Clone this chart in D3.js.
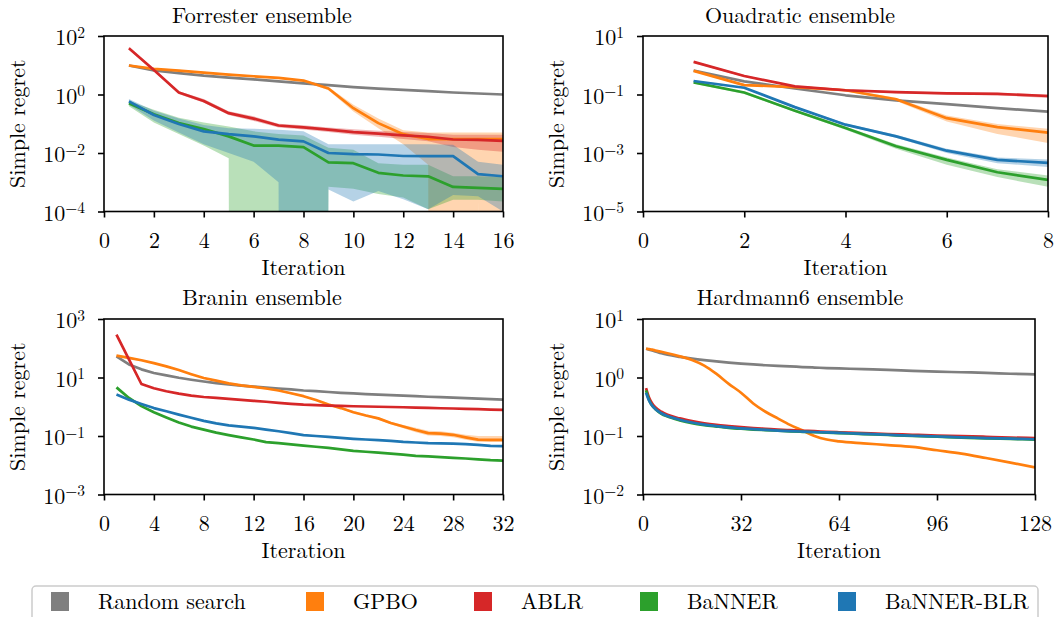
<!DOCTYPE html>
<html>
<head>
<meta charset="utf-8">
<script src="https://cdn.jsdelivr.net/npm/d3@7"></script>
<style>
  body { margin: 0; background: #fff; }
</style>
</head>
<body>
<svg id="chart" width="1055" height="617"></svg>
<script>
// ---- data ----
const methods = ["Random search", "GPBO", "ABLR", "BaNNER", "BaNNER-BLR"];

// Forrester ensemble
const forIter = [1, 2, 3, 4, 5, 6, 7, 8, 9, 10, 11, 12, 13, 14, 15, 16];
const forRandom = [9.8, 6.6, 5.4, 4.4, 3.8, 3.3, 2.8, 2.4, 2.1, 1.8, 1.6, 1.45, 1.3, 1.17, 1.08, 1.0];
const forGpbo   = [9.8, 7.5, 6.6, 5.6, 4.8, 4.2, 3.7, 3.0, 1.6, 0.34, 0.105, 0.044, 0.03, 0.03, 0.03, 0.03];
const forGpboLo = [9.2, 7.0, 6.2, 5.2, 4.5, 3.9, 3.5, 2.8, 1.4, 0.26, 0.07, 0.02, 0.004, 0, 2.5e-4, 0];
const forGpboHi = [10.5, 8.0, 7.0, 6.0, 5.1, 4.5, 3.9, 3.2, 1.8, 0.45, 0.15, 0.06, 0.05, 0.05, 0.05, 0.05];
const forAblr   = [38, 6.9, 1.17, 0.6, 0.23, 0.15, 0.087, 0.075, 0.063, 0.052, 0.046, 0.04, 0.036, 0.029, 0.028, 0.026];
const forAblrLo = [34, 6.3, 1.05, 0.52, 0.2, 0.125, 0.075, 0.063, 0.052, 0.042, 0.036, 0.03, 0.025, 0.016, 0.013, 0.011];
const forAblrHi = [42, 7.5, 1.3, 0.7, 0.27, 0.18, 0.1, 0.088, 0.075, 0.065, 0.058, 0.052, 0.048, 0.042, 0.042, 0.042];
const forBanner   = [0.5, 0.21, 0.105, 0.066, 0.037, 0.018, 0.018, 0.016, 0.0048, 0.0045, 0.0021, 0.0017, 0.0016, 6.9e-4, 6.4e-4, 5.9e-4];
const forBannerLo = [0.4, 0.11, 0.045, 0.018, 0.0066, 0, 0, 0, 7e-4, 6e-4, 4e-4, 3e-4, 1.2e-4, 2.5e-4, 2.5e-4, 2.2e-4];
const forBannerHi = [0.6, 0.3, 0.16, 0.11, 0.08, 0.055, 0.045, 0.04, 0.015, 0.013, 0.0045, 0.004, 0.004, 0.0016, 0.0016, 0.0015];
const forBlr   = [0.58, 0.2, 0.098, 0.055, 0.044, 0.037, 0.0285, 0.025, 0.01, 0.0092, 0.0089, 0.0079, 0.0078, 0.0078, 0.0019, 0.0016];
const forBlrLo = [0.45, 0.13, 0.05, 0.02, 0.01, 0.005, 0.001, 0, 5.6e-4, 2.2e-4, 5e-4, 2.6e-4, 1.2e-4, 3.7e-4, 3.3e-4, 1e-4];
const forBlrHi = [0.7, 0.28, 0.15, 0.09, 0.07, 0.068, 0.062, 0.055, 0.02, 0.02, 0.02, 0.02, 0.02, 0.019, 0.005, 0.004];

// Quadratic ensemble
const quadIter = [1, 2, 3, 4, 5, 6, 7, 8];
const quadRandom = [0.66, 0.28, 0.16, 0.094, 0.063, 0.047, 0.034, 0.026];
const quadGpbo   = [0.64, 0.21, 0.18, 0.14, 0.069, 0.0155, 0.0077, 0.005];
const quadGpboLo = [0.6, 0.19, 0.165, 0.13, 0.06, 0.012, 0.0045, 0.0022];
const quadGpboHi = [0.68, 0.23, 0.195, 0.15, 0.078, 0.019, 0.0098, 0.0068];
const quadAblr   = [1.3, 0.43, 0.19, 0.14, 0.12, 0.11, 0.105, 0.089];
const quadAblrLo = [1.2, 0.4, 0.18, 0.13, 0.11, 0.1, 0.095, 0.076];
const quadAblrHi = [1.4, 0.46, 0.2, 0.15, 0.13, 0.12, 0.115, 0.1];
const quadBanner   = [0.26, 0.117, 0.028, 0.0072, 0.0017, 5.8e-4, 2.2e-4, 1.2e-4];
const quadBannerLo = [0.24, 0.105, 0.025, 0.0062, 0.0014, 4e-4, 1.5e-4, 7e-5];
const quadBannerHi = [0.28, 0.125, 0.031, 0.008, 0.002, 7e-4, 2.8e-4, 1.7e-4];
const quadBlr   = [0.29, 0.17, 0.037, 0.0093, 0.0037, 0.0012, 5.8e-4, 4.6e-4];
const quadBlrLo = [0.27, 0.16, 0.034, 0.0085, 0.0033, 0.001, 4.5e-4, 3.3e-4];
const quadBlrHi = [0.31, 0.18, 0.04, 0.0102, 0.0042, 0.0014, 7e-4, 6e-4];

// Branin ensemble
const branIter = d3.range(1, 33);
const branRandom = [53, 28, 19, 14.3, 11.8, 9.8, 8.4, 7.3, 6.4, 5.8, 5.3, 4.9, 4.5, 4.2, 3.9, 3.6,
                    3.4, 3.2, 3.0, 2.85, 2.7, 2.6, 2.5, 2.4, 2.3, 2.2, 2.12, 2.05, 1.97, 1.9, 1.82, 1.75];
const branGpbo = [56, 47, 39, 31, 24, 18, 13, 9.6, 7.8, 6.3, 5.4, 4.8, 4.2, 3.6, 2.9, 2.3,
                  1.7, 1.2, 0.9, 0.65, 0.5, 0.4, 0.28, 0.21, 0.16, 0.125, 0.12, 0.11, 0.09, 0.075, 0.074, 0.074];
const branGpboLo = [52, 44, 37, 29, 22.5, 17, 12.2, 9, 7.3, 5.9, 5.1, 4.5, 3.9, 3.4, 2.7, 2.15,
                    1.6, 1.1, 0.83, 0.6, 0.46, 0.36, 0.25, 0.185, 0.135, 0.105, 0.1, 0.09, 0.075, 0.063, 0.062, 0.062];
const branGpboHi = [60, 50, 41, 33, 25.5, 19, 13.8, 10.2, 8.3, 6.7, 5.7, 5.1, 4.5, 3.8, 3.1, 2.45,
                    1.82, 1.3, 0.98, 0.71, 0.55, 0.44, 0.31, 0.24, 0.19, 0.15, 0.145, 0.13, 0.11, 0.1, 0.1, 0.1];
const branAblr = [290, 42, 6.0, 4.3, 3.4, 2.8, 2.4, 2.15, 2.0, 1.85, 1.72, 1.6, 1.48, 1.36, 1.26, 1.18,
                  1.14, 1.1, 1.07, 1.04, 1.02, 1.0, 0.98, 0.96, 0.94, 0.91, 0.89, 0.87, 0.85, 0.83, 0.8, 0.78];
const branBanner = [4.6, 2.0, 1.05, 0.65, 0.43, 0.29, 0.21, 0.165, 0.13, 0.107, 0.09, 0.076, 0.062, 0.057, 0.052, 0.047,
                    0.043, 0.039, 0.035, 0.031, 0.029, 0.027, 0.025, 0.023, 0.021, 0.02, 0.019, 0.018, 0.017, 0.016, 0.015, 0.0144];
const branBlr = [2.6, 1.75, 1.25, 0.9, 0.7, 0.54, 0.42, 0.33, 0.27, 0.23, 0.21, 0.19, 0.165, 0.145, 0.125, 0.107,
                 0.1, 0.093, 0.086, 0.08, 0.076, 0.072, 0.068, 0.063, 0.06, 0.057, 0.056, 0.055, 0.053, 0.05, 0.046, 0.045];

// Hardmann6 ensemble (sampled iterations)
const hartIter = [1, 2, 3, 4, 6, 8, 12, 16, 20, 24, 28, 32, 36, 40, 44, 48, 52, 56, 60, 64, 72, 80, 88, 96, 104, 112, 120, 128];
const hartRandom = [3.1, 3.0, 2.9, 2.8, 2.6, 2.45, 2.25, 2.1, 1.98, 1.88, 1.8, 1.73, 1.67, 1.62, 1.58, 1.55,
                    1.51, 1.48, 1.45, 1.43, 1.39, 1.35, 1.3, 1.26, 1.23, 1.2, 1.16, 1.13];
const hartGpbo = [3.1, 3.05, 3.0, 2.9, 2.75, 2.6, 2.3, 2.0, 1.6, 1.15, 0.78, 0.55, 0.36, 0.26, 0.2, 0.155,
                  0.125, 0.1, 0.087, 0.081, 0.075, 0.07, 0.065, 0.057, 0.05, 0.042, 0.035, 0.029];
const hartAblr = [0.66, 0.45, 0.36, 0.31, 0.26, 0.23, 0.2, 0.18, 0.165, 0.155, 0.148, 0.142, 0.137, 0.133, 0.129, 0.126,
                  0.123, 0.121, 0.118, 0.116, 0.112, 0.108, 0.105, 0.102, 0.1, 0.097, 0.094, 0.092];
const hartBanner = [0.6, 0.41, 0.33, 0.29, 0.24, 0.215, 0.185, 0.165, 0.153, 0.145, 0.138, 0.133, 0.129, 0.126, 0.123, 0.12,
                    0.118, 0.116, 0.114, 0.112, 0.108, 0.104, 0.1, 0.097, 0.094, 0.091, 0.089, 0.087];
const hartBlr = [0.55, 0.4, 0.33, 0.29, 0.245, 0.22, 0.19, 0.17, 0.157, 0.148, 0.14, 0.135, 0.131, 0.127, 0.124, 0.121,
                 0.119, 0.117, 0.115, 0.113, 0.109, 0.105, 0.101, 0.098, 0.095, 0.092, 0.09, 0.088];

// ---- style ----
const colors = ["#7f7f7f", "#ff7f0e", "#d62728", "#2ca02c", "#1f77b4"];
const FONT = "'Latin Modern Roman', 'Liberation Serif', serif";
const fontSize = 22;

const panels = [
  { title: "Forrester ensemble", titleX: 262, titleY: 23,
    left: 104, right: 503, top: 36, bottom: 211.5,
    xMax: 16, xTicks: d3.range(0, 17, 2), yDomain: [1e-4, 1e2], yTicks: [2, 0, -2, -4],
    iters: forIter, curve: d3.curveLinear,
    series: [
      { mean: forRandom },
      { mean: forGpbo, lo: forGpboLo, hi: forGpboHi },
      { mean: forAblr, lo: forAblrLo, hi: forAblrHi },
      { mean: forBanner, lo: forBannerLo, hi: forBannerHi },
      { mean: forBlr, lo: forBlrLo, hi: forBlrHi }
    ] },
  { title: "Ouadratic ensemble", titleX: 800, titleY: 23,
    left: 643, right: 1048, top: 36, bottom: 211.5,
    xMax: 8, xTicks: d3.range(0, 9, 2), yDomain: [1e-5, 1e1], yTicks: [1, -1, -3, -5],
    iters: quadIter, curve: d3.curveLinear,
    series: [
      { mean: quadRandom },
      { mean: quadGpbo, lo: quadGpboLo, hi: quadGpboHi },
      { mean: quadAblr, lo: quadAblrLo, hi: quadAblrHi },
      { mean: quadBanner, lo: quadBannerLo, hi: quadBannerHi },
      { mean: quadBlr, lo: quadBlrLo, hi: quadBlrHi }
    ] },
  { title: "Branin ensemble", titleX: 262, titleY: 305,
    left: 104, right: 503, top: 319, bottom: 494.5,
    xMax: 32, xTicks: d3.range(0, 33, 4), yDomain: [1e-3, 1e3], yTicks: [3, 1, -1, -3],
    iters: branIter, curve: d3.curveLinear,
    series: [
      { mean: branRandom },
      { mean: branGpbo, lo: branGpboLo, hi: branGpboHi },
      { mean: branAblr },
      { mean: branBanner },
      { mean: branBlr }
    ] },
  { title: "Hardmann6 ensemble", titleX: 800, titleY: 305,
    left: 643, right: 1035, top: 319, bottom: 494.5,
    xMax: 128, xTicks: d3.range(0, 129, 32), yDomain: [1e-2, 1e1], yTicks: [1, 0, -1, -2],
    iters: hartIter, curve: d3.curveMonotoneX,
    series: [
      { mean: hartRandom },
      { mean: hartGpbo },
      { mean: hartAblr },
      { mean: hartBanner },
      { mean: hartBlr }
    ] }
];

const svg = d3.select("#chart");

function styleText(sel) {
  return sel.style("font-family", FONT).style("font-size", fontSize + "px").attr("fill", "#000");
}

panels.forEach((p, k) => {
  const x = d3.scaleLinear().domain([0, p.xMax]).range([p.left, p.right]);
  const y = d3.scaleLog().domain(p.yDomain).range([p.bottom, p.top]);
  const g = svg.append("g");

  g.append("clipPath").attr("id", "clip" + k)
    .append("rect")
      .attr("x", p.left).attr("y", p.top)
      .attr("width", p.right - p.left).attr("height", p.bottom - p.top);

  const plot = g.append("g").attr("clip-path", `url(#clip${k})`);

  // shaded bands first (non-positive lower bounds drop far below the axis)
  p.series.forEach((s, i) => {
    if (!s.lo) return;
    const area = d3.area()
      .x((d, j) => x(p.iters[j]))
      .y0((d, j) => s.lo[j] > 0 ? y(s.lo[j]) : p.bottom + 8000)
      .y1((d, j) => y(s.hi[j]));
    plot.append("path")
      .datum(s.mean)
      .attr("d", area)
      .attr("fill", colors[i])
      .attr("fill-opacity", 0.33)
      .attr("stroke", "none");
  });

  p.series.forEach((s, i) => {
    const line = d3.line()
      .x((d, j) => x(p.iters[j]))
      .y(d => y(d))
      .curve(p.curve);
    plot.append("path")
      .datum(s.mean)
      .attr("d", line)
      .attr("fill", "none")
      .attr("stroke", colors[i])
      .attr("stroke-width", 2.7)
      .attr("stroke-linejoin", "round");
  });

  // frame
  g.append("rect")
    .attr("x", p.left).attr("y", p.top)
    .attr("width", p.right - p.left).attr("height", p.bottom - p.top)
    .attr("fill", "none").attr("stroke", "#000").attr("stroke-width", 1.6);

  // x axis
  const xa = g.append("g")
    .attr("transform", `translate(0,${p.bottom})`)
    .call(d3.axisBottom(x).tickValues(p.xTicks).tickSize(6).tickPadding(15).tickFormat(d3.format("d")));
  xa.select(".domain").remove();
  xa.selectAll("line").attr("stroke-width", 1.6);
  styleText(xa.selectAll("text"));

  // y axis with 10^n labels
  const ya = g.append("g")
    .attr("transform", `translate(${p.left},0)`)
    .call(d3.axisLeft(y).tickValues(p.yTicks.map(e => Math.pow(10, e))).tickSize(6).tickPadding(13).tickFormat(""));
  ya.select(".domain").remove();
  ya.selectAll("line").attr("stroke-width", 1.6);
  ya.selectAll(".tick text").each(function(d) {
    const t = styleText(d3.select(this)).attr("dy", "0.4em");
    const e = Math.round(Math.log10(d));
    t.append("tspan").text("10");
    t.append("tspan").attr("dy", "-0.5em").style("font-size", "15.5px")
      .text(e < 0 ? "\u2212" + (-e) : String(e));
  });

  // labels
  styleText(g.append("text"))
    .attr("x", (p.left + p.right) / 2).attr("y", p.bottom + 63)
    .attr("text-anchor", "middle")
    .text("Iteration");
  styleText(g.append("text"))
    .attr("transform", `translate(${p.left - 79},${(p.top + p.bottom) / 2}) rotate(-90)`)
    .attr("text-anchor", "middle")
    .text("Simple regret");
  styleText(g.append("text"))
    .attr("x", p.titleX).attr("y", p.titleY)
    .attr("text-anchor", "middle")
    .text(p.title);
});

// legend
const legendX = [51, 306, 474, 640, 838];
const legend = svg.append("g");
legend.append("rect")
  .attr("x", 32).attr("y", 586).attr("width", 1006).attr("height", 50)
  .attr("rx", 4).attr("fill", "#fff").attr("stroke", "#cccccc").attr("stroke-width", 1.5);
methods.forEach((m, i) => {
  legend.append("rect")
    .attr("x", legendX[i]).attr("y", 592).attr("width", 18).attr("height", 19)
    .attr("fill", colors[i]);
  styleText(legend.append("text"))
    .attr("x", legendX[i] + 47).attr("y", 609)
    .text(m);
});
</script>
</body>
</html>
